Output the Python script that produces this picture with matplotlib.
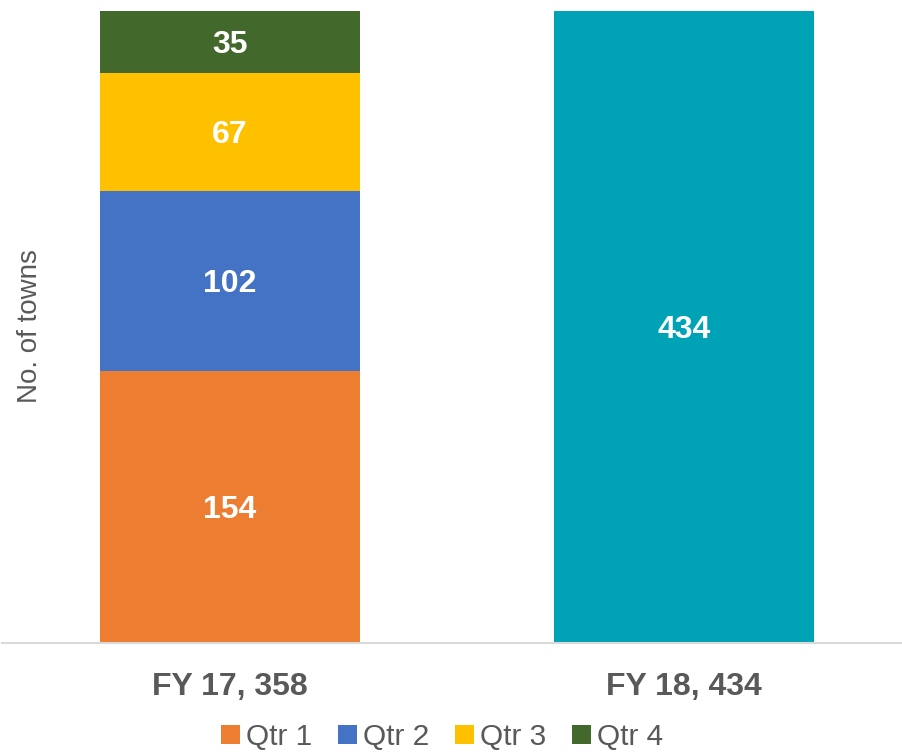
import matplotlib.pyplot as plt
import numpy as np

plt.rcParams['font.family'] = ['Liberation Sans', 'DejaVu Sans']

categories = ['FY 17', 'FY 18']
quarters = ['Qtr 1', 'Qtr 2', 'Qtr 3', 'Qtr 4']
fy17_quarters = [154, 102, 67, 35]
fy18_total = 434

q_colors = ['#ED7D31', '#4472C4', '#FFC000', '#43682B']
fy18_color = '#00A3B6'
gray = '#595959'

fy17_total = sum(fy17_quarters)
tick_labels = [f'FY 17, {fy17_total}', f'FY 18, {fy18_total}']

fig = plt.figure(figsize=(9.02, 7.53), dpi=100)
ax = fig.add_axes([2 / 902, 110.5 / 753, 900 / 902, 631.5 / 753])

x = np.arange(len(categories))
width = 0.573
ymax = fy17_total

bottom = 0
handles = []
for q, v, c in zip(quarters, fy17_quarters, q_colors):
    b = ax.bar(x[0], v, width, bottom=bottom, color=c, label=q)
    handles.append(b)
    ax.text(x[0], bottom + v / 2, str(v), ha='center', va='center_baseline',
            color='white', fontsize=23, fontweight='bold')
    bottom += v

ax.bar(x[1], fy18_total, width, color=fy18_color)
ax.text(x[1], min(fy18_total, ymax) / 2, str(fy18_total), ha='center',
        va='center_baseline', color='white', fontsize=23, fontweight='bold')

ax.set_xlim(-0.502, 1.48)
ax.set_ylim(0, ymax)
ax.set_xticks(x)
ax.set_xticklabels(tick_labels, fontsize=23, fontweight='bold', color=gray)
ax.tick_params(axis='x', length=0, pad=21)
ax.set_yticks([])
for s in ['top', 'right', 'left']:
    ax.spines[s].set_visible(False)
ax.spines['bottom'].set_color('#D9D9D9')
ax.spines['bottom'].set_linewidth(1.5)

fig.text(30 / 902, 1 - 326 / 753, 'No. of towns', rotation=90, ha='center',
         va='center', fontsize=20, color=gray)

leg = fig.legend(handles=handles, labels=quarters, loc='center',
                 bbox_to_anchor=(0.49, 1 - 737 / 753), ncol=4, frameon=False,
                 fontsize=21.5, handlelength=0.65, handleheight=0.65,
                 handletextpad=0.2, columnspacing=0.85, borderpad=0.2)
for t in leg.get_texts():
    t.set_color(gray)

fig.savefig('out.png', dpi=100)
